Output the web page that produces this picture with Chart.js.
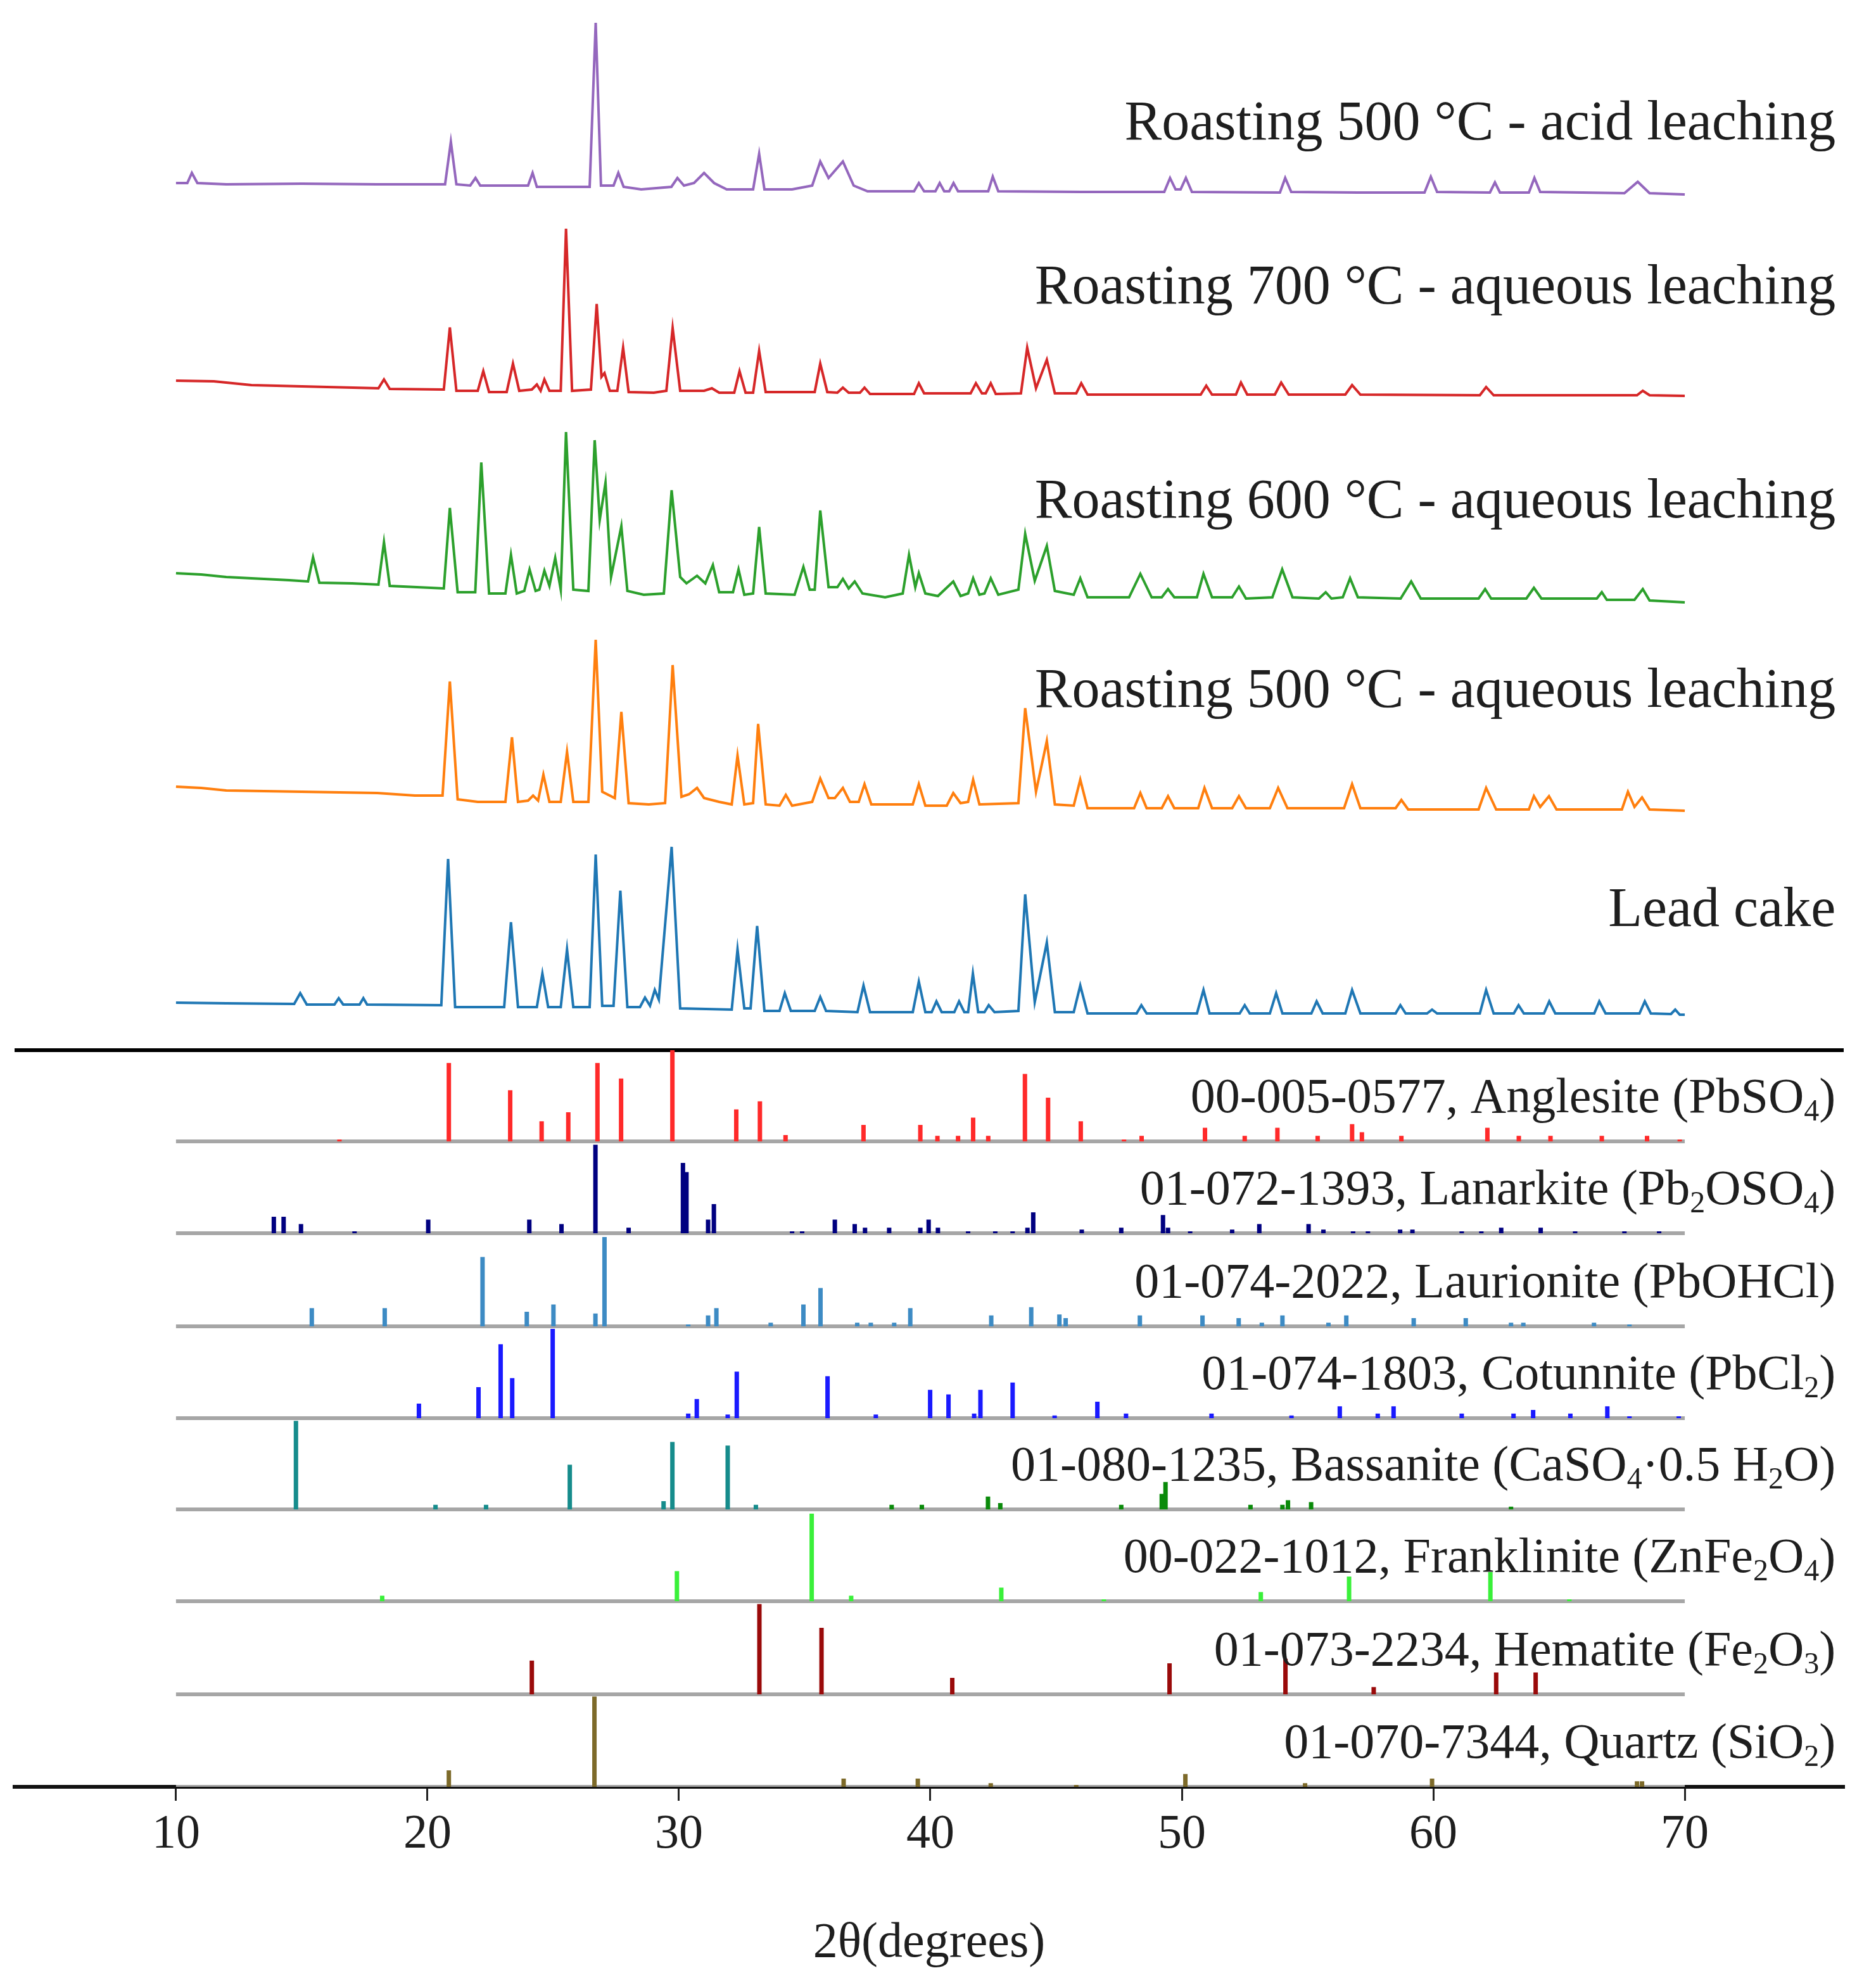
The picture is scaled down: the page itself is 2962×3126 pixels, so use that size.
<!DOCTYPE html>
<html>
<head>
<meta charset="utf-8">
<script src="https://cdn.jsdelivr.net/npm/chart.js@4.4.1/dist/chart.umd.min.js"></script>
<style>
  html, body { margin: 0; padding: 0; background: #fff; overflow: hidden; }
  #wrap { width: 2962px; height: 3126px; }
</style>
</head>
<body>
<div id="wrap"><canvas id="xrd"></canvas></div>
<script>
// ---- measured patterns: [2theta, intensity a.u.] ----
var roast500Acid = [[10,18],[10.45,18],[10.63,34],[10.85,18],[12,16],[15,17],[18,16],[20.7,16],[20.93,83],[21.15,16],[21.7,14],[21.91,26],[22.1,14],[24.0,14],[24.18,34],[24.35,12],[26.45,12],[26.69,271],[26.9,14],[27.4,14],[27.59,34],[27.8,12],[28.5,8],[29.7,12],[29.94,26],[30.2,14],[30.6,18],[31.0,34],[31.4,18],[31.9,8],[32.95,8],[33.19,64],[33.4,8],[34.5,8],[35.3,14],[35.62,52],[35.95,26],[36.52,52],[36.95,14],[37.5,5],[39.35,5],[39.54,18],[39.75,5],[40.2,5],[40.37,18],[40.55,5],[40.75,5],[40.92,18],[41.1,5],[42.3,5],[42.48,28],[42.7,5],[46,4],[49.3,4],[49.53,26],[49.75,8],[49.95,8],[50.16,26],[50.4,4],[53.9,3],[54.11,26],[54.35,4],[57,3],[59.65,3],[59.9,28],[60.15,4],[62.25,3],[62.45,19],[62.65,3],[63.8,3],[64.02,26],[64.25,4],[67.6,2],[68.13,20],[68.6,2],[70,0]];

var roast700Aq = [[10,24],[11.5,23],[13,17],[16,14],[18.05,12],[18.27,26],[18.5,11],[20.65,10],[20.89,108],[21.15,8],[22.0,8],[22.22,39],[22.45,6],[23.15,6],[23.4,51],[23.65,8],[24.15,10],[24.35,18],[24.5,8],[24.65,26],[24.85,8],[25.3,8],[25.51,264],[25.75,8],[26.5,10],[26.73,145],[26.92,30],[27.04,36],[27.25,8],[27.55,8],[27.78,76],[28.0,6],[29.0,5],[29.5,8],[29.75,107],[30.05,8],[31.0,8],[31.31,12],[31.6,5],[32.2,5],[32.41,39],[32.65,5],[32.95,5],[33.19,71],[33.45,6],[35.4,6],[35.62,51],[35.9,6],[36.3,5],[36.52,13],[36.75,5],[37.2,5],[37.38,13],[37.6,3],[39.35,3],[39.54,20],[39.75,4],[41.6,4],[41.81,20],[42.05,4],[42.2,4],[42.4,20],[42.6,3],[43.6,4],[43.85,76],[44.2,12],[44.63,57],[44.95,4],[45.8,4],[46.0,20],[46.25,2],[50.75,2],[50.97,16],[51.2,2],[52.15,2],[52.35,21],[52.6,2],[53.7,2],[53.95,21],[54.25,2],[56.5,2],[56.77,17],[57.1,2],[61.85,1],[62.1,14],[62.4,1],[68.1,1],[68.33,8],[68.6,1],[70,0]];

var roast600Aq = [[10,46],[11,44],[12,40],[13,38],[14.5,35],[15.25,33],[15.45,71],[15.7,31],[17,30],[18.05,28],[18.27,95],[18.5,26],[20.65,22],[20.89,149],[21.2,16],[21.9,16],[22.14,221],[22.45,14],[23.1,14],[23.32,75],[23.55,14],[23.85,18],[24.06,52],[24.3,18],[24.45,20],[24.65,50],[24.85,26],[25.08,70],[25.3,20],[25.51,269],[25.8,20],[26.4,18],[26.65,256],[26.85,130],[27.08,189],[27.3,40],[27.71,120],[27.95,18],[28.6,12],[29.4,14],[29.71,177],[30.05,40],[30.3,30],[30.72,42],[31.05,30],[31.35,59],[31.6,16],[32.15,16],[32.37,52],[32.6,12],[32.95,14],[33.19,119],[33.45,14],[34.6,12],[34.95,56],[35.2,20],[35.4,20],[35.62,145],[35.95,24],[36.3,24],[36.52,37],[36.75,22],[36.99,33],[37.3,14],[38.2,8],[38.9,14],[39.15,75],[39.4,24],[39.54,46],[39.8,14],[40.3,10],[40.91,33],[41.2,10],[41.5,14],[41.7,38],[41.95,12],[42.15,14],[42.4,38],[42.7,12],[43.5,20],[43.77,108],[44.15,34],[44.63,89],[44.95,18],[45.7,12],[45.96,38],[46.25,8],[47.9,8],[48.35,45],[48.8,8],[49.2,8],[49.45,21],[49.7,8],[50.6,8],[50.86,45],[51.2,8],[52.0,8],[52.27,25],[52.55,6],[53.6,8],[53.99,52],[54.4,8],[55.45,6],[55.72,16],[55.95,6],[56.4,8],[56.69,38],[57.0,8],[58.7,6],[59.12,33],[59.5,6],[61.8,6],[62.06,21],[62.3,6],[63.7,6],[64.0,23],[64.3,6],[66.5,6],[66.7,16],[66.9,4],[68.0,4],[68.33,21],[68.6,3],[70,0]];

var roast500Aq = [[10,38],[11,36],[12,32],[15,30],[18,28],[19.5,24],[20.6,24],[20.89,204],[21.2,18],[22.0,14],[23.1,14],[23.36,116],[23.6,14],[24.0,16],[24.2,24],[24.4,16],[24.61,57],[24.85,14],[25.3,14],[25.55,93],[25.8,14],[26.4,14],[26.69,270],[26.95,30],[27.45,20],[27.71,156],[28.0,12],[28.8,10],[29.45,12],[29.75,230],[30.1,22],[30.4,26],[30.72,36],[31.0,20],[31.6,14],[32.1,10],[32.33,87],[32.6,10],[32.95,12],[33.15,137],[33.45,10],[34.0,8],[34.25,25],[34.5,8],[35.3,14],[35.62,51],[35.95,20],[36.2,20],[36.52,36],[36.8,14],[37.15,14],[37.38,42],[37.65,10],[39.3,10],[39.54,42],[39.8,8],[40.65,8],[40.91,28],[41.2,12],[41.5,14],[41.7,49],[41.95,10],[43.5,12],[43.77,162],[44.2,30],[44.63,110],[44.95,10],[45.7,8],[45.96,49],[46.25,4],[48.1,4],[48.35,28],[48.6,4],[49.2,4],[49.45,23],[49.7,4],[50.65,4],[50.9,36],[51.2,4],[52.0,4],[52.27,23],[52.55,4],[53.5,4],[53.83,36],[54.2,4],[56.45,4],[56.77,42],[57.1,4],[58.5,4],[58.73,17],[59.0,2],[61.8,2],[62.1,36],[62.5,2],[63.8,2],[64.0,23],[64.25,6],[64.6,23],[64.9,2],[67.5,2],[67.74,30],[68.0,6],[68.3,21],[68.6,2],[70,0]];

var leadCake = [[10,19],[12,18],[14.7,17],[14.94,34],[15.2,16],[16.3,16],[16.47,26],[16.65,16],[17.3,16],[17.45,26],[17.6,16],[20.55,15],[20.82,246],[21.1,12],[23.05,12],[23.32,146],[23.6,12],[24.35,12],[24.57,65],[24.8,12],[25.3,12],[25.55,103],[25.8,12],[26.45,12],[26.69,253],[26.95,14],[27.4,14],[27.67,196],[27.95,12],[28.45,12],[28.65,27],[28.85,14],[29.04,39],[29.2,24],[29.71,265],[30.05,10],[32.1,8],[32.33,103],[32.6,10],[32.85,10],[33.11,140],[33.4,6],[34.0,6],[34.21,34],[34.45,6],[35.4,6],[35.62,28],[35.85,6],[37.1,4],[37.34,46],[37.6,4],[39.3,4],[39.54,52],[39.8,4],[40.05,4],[40.24,21],[40.45,4],[40.95,4],[41.14,21],[41.35,4],[41.5,4],[41.69,65],[41.9,4],[42.15,4],[42.32,15],[42.55,4],[43.5,6],[43.77,190],[44.15,20],[44.63,114],[44.95,4],[45.7,4],[45.96,46],[46.25,2],[48.2,2],[48.39,15],[48.6,2],[50.6,2],[50.86,39],[51.1,2],[52.3,2],[52.5,15],[52.7,2],[53.5,2],[53.75,34],[54.0,2],[55.15,2],[55.36,21],[55.6,2],[56.5,2],[56.77,39],[57.1,2],[58.5,2],[58.69,15],[58.9,2],[59.75,2],[59.95,8],[60.15,2],[61.85,2],[62.1,39],[62.4,2],[63.2,2],[63.39,15],[63.6,2],[64.4,2],[64.61,21],[64.85,2],[66.4,2],[66.6,21],[66.85,2],[68.2,2],[68.41,21],[68.65,2],[69.45,1],[69.62,8],[69.8,0],[70,0]];

var patternNames = ['Roasting 500 °C - acid leaching', 'Roasting 700 °C - aqueous leaching',
  'Roasting 600 °C - aqueous leaching', 'Roasting 500 °C - aqueous leaching', 'Lead cake'];

// ---- reference cards: [2theta, relative intensity %] ----
var anglesite = [[16.5,2],[20.85,86],[23.29,56],[24.54,22],[25.6,32],[26.76,86],[27.7,69],[29.74,100],[32.28,35],[33.22,44],[34.24,7],[37.34,18],[39.6,18],[40.28,6],[41.1,6],[41.7,26],[42.3,6],[43.76,74],[44.68,48],[45.98,22],[47.7,2],[48.4,6],[50.92,15],[52.5,6],[53.8,15],[55.4,6],[56.77,19],[57.16,10],[58.73,6],[62.15,15],[63.4,6],[64.66,6],[66.7,6],[68.5,6],[69.8,2]];
var lanarkite = [[13.89,18],[14.28,18],[14.97,10],[17.1,2],[20.03,15],[24.05,15],[25.33,10],[26.68,97],[28.0,6],[30.16,77],[30.3,67],[31.16,15],[31.39,32],[34.5,2],[34.9,2],[36.2,15],[36.99,10],[37.4,6],[38.36,6],[39.6,6],[39.93,15],[40.3,6],[41.5,2],[42.58,2],[43.27,2],[43.86,6],[44.09,23],[46.02,4],[47.59,6],[49.25,20],[49.45,6],[50.33,2],[52.0,4],[53.08,10],[55.04,10],[55.63,4],[56.81,2],[57.4,2],[58.68,4],[59.17,4],[61.13,2],[61.91,2],[62.7,6],[64.27,6],[65.64,2],[67.6,2],[68.98,2]];
var laurionite = [[15.4,20],[18.3,20],[22.19,76],[23.95,16],[25.01,24],[26.68,14],[27.04,98],[30.37,2],[31.16,12],[31.49,20],[33.65,4],[34.95,24],[35.63,42],[37.09,4],[37.63,4],[38.56,4],[39.2,20],[42.42,12],[44.01,21],[45.13,13],[45.38,9],[48.33,12],[50.82,12],[52.26,9],[53.18,4],[54.0,12],[55.83,4],[56.54,12],[59.22,9],[61.29,9],[63.09,4],[63.58,4],[66.39,4],[67.8,2]];
var cotunnite = [[19.66,16],[22.03,34],[22.91,81],[23.37,44],[24.98,98],[30.37,5],[30.71,21],[31.94,4],[32.3,51],[35.91,46],[37.83,4],[39.99,31],[40.72,26],[41.74,5],[41.99,31],[43.27,39],[44.94,3],[46.64,18],[47.78,5],[51.18,5],[54.36,3],[56.28,13],[57.79,5],[58.42,13],[61.13,5],[63.19,5],[63.97,9],[65.45,5],[66.92,13],[67.8,2],[69.76,2]];
var bassanite = [[14.77,97],[20.32,5],[22.33,5],[25.66,49],[29.39,9],[29.74,74],[31.94,70],[33.06,5]];
var bassaniteMinor = [[38.46,5],[39.66,5],[42.29,14],[42.78,7],[47.59,5],[49.2,17],[49.35,30],[52.73,5],[54.0,5],[54.22,10],[55.14,8],[63.09,3]];
var franklinite = [[18.2,6],[29.92,33],[35.28,96],[36.85,6],[42.82,15],[46.9,2],[53.14,10],[56.65,27],[62.27,32],[65.41,2]];
var hematite = [[24.15,37],[33.2,99],[35.67,73],[40.87,18],[49.51,34],[54.12,39],[57.63,8],[62.5,24],[64.07,24]];
var quartz = [[20.85,18],[26.64,99],[36.55,9],[39.5,9],[42.4,4],[45.8,2],[50.14,14],[54.9,4],[59.95,9],[68.1,6],[68.3,6]];

var cardNames = ['00-005-0577, Anglesite (PbSO_4)', '01-072-1393, Lanarkite (Pb_2OSO_4)',
  '01-074-2022, Laurionite (PbOHCl)', '01-074-1803, Cotunnite (PbCl_2)',
  '01-080-1235, Bassanite (CaSO_4·0.5 H_2O)', '00-022-1012, Franklinite (ZnFe_2O_4)',
  '01-073-2234, Hematite (Fe_2O_3)', '01-070-7344, Quartz (SiO_2)'];

var xTicks = [10, 20, 30, 40, 50, 60, 70];

// ---- layout / style ----
var X_MIN = 3.58, X_MAX = 76.32, Y_MAX = 2821;
var patternOffsets = [2514, 2196, 1870, 1541, 1219];
var patternLabelY = [2601, 2342, 2004, 1705, 1359];
var patternColors = ['#9467bd', '#d62728', '#2ca02c', '#ff7f0e', '#1f77b4'];
var cardBases = [1019, 874, 727, 582, 438, 293, 146, 0];
var cardColors = ['#ff2a2a', '#000080', '#3d8bc4', '#1a1aff', '#168c8c', '#3af03a', '#9a0a0a', '#7d6a2a'];
var STICK_SCALE = 1.44;
var DIVIDER_Y = 1163;
var LABEL_X = 76.0;

var datasets = [];

var patterns = [roast500Acid, roast700Aq, roast600Aq, roast500Aq, leadCake];
patterns.forEach(function (p, i) {
  datasets.push({
    data: p.map(function (d) { return { x: d[0], y: patternOffsets[i] + d[1] }; }),
    borderColor: patternColors[i],
    borderWidth: 4,
    pointRadius: 0
  });
});

function stickData(card, base) {
  var pts = [];
  card.forEach(function (d) {
    pts.push({ x: d[0], y: base });
    pts.push({ x: d[0], y: base + d[1] * STICK_SCALE });
    pts.push({ x: d[0], y: null });
  });
  return pts;
}

var cards = [anglesite, lanarkite, laurionite, cotunnite, bassanite, franklinite, hematite, quartz];
cards.forEach(function (c, i) {
  datasets.push({
    data: stickData(c, cardBases[i]),
    borderColor: cardColors[i],
    borderWidth: 7,
    borderCapStyle: 'butt',
    pointRadius: 0
  });
});
datasets.push({
  data: stickData(bassaniteMinor, cardBases[4]),
  borderColor: '#0a8a0a',
  borderWidth: 7,
  borderCapStyle: 'butt',
  pointRadius: 0
});

// grey baselines under each card
cardBases.forEach(function (b) {
  datasets.push({
    data: [{ x: 10, y: b }, { x: 70, y: b }],
    borderColor: '#a6a6a6',
    borderWidth: 6,
    pointRadius: 0
  });
});

// black separator between samples and cards
datasets.push({
  data: [{ x: X_MIN, y: DIVIDER_Y }, { x: X_MAX, y: DIVIDER_Y }],
  borderColor: '#000000',
  borderWidth: 6,
  pointRadius: 0
});

function drawRich(ctx, text, xRight, yBase, size) {
  var parts = text.split(/(_\d)/).filter(function (p) { return p !== ''; });
  var main = size + 'px "Liberation Serif", serif';
  var small = Math.round(size * 0.62) + 'px "Liberation Serif", serif';
  var widths = parts.map(function (p) {
    var sub = p[0] === '_';
    ctx.font = sub ? small : main;
    return ctx.measureText(sub ? p.slice(1) : p).width;
  });
  var total = widths.reduce(function (a, b) { return a + b; }, 0);
  var x = xRight - total;
  ctx.textAlign = 'left';
  ctx.textBaseline = 'alphabetic';
  parts.forEach(function (p, i) {
    if (p[0] === '_') {
      ctx.font = small;
      ctx.fillText(p.slice(1), x, yBase + size * 0.17);
    } else {
      ctx.font = main;
      ctx.fillText(p, x, yBase);
    }
    x += widths[i];
  });
}

var labelPlugin = {
  id: 'labels',
  afterDraw: function (chart) {
    var ctx = chart.ctx;
    var xs = chart.scales.x, ys = chart.scales.y;
    var xr = xs.getPixelForValue(LABEL_X);
    ctx.save();
    ctx.fillStyle = '#1e1e1e';
    patternNames.forEach(function (t, i) {
      drawRich(ctx, t, xr, ys.getPixelForValue(patternLabelY[i]), 88);
    });
    cardNames.forEach(function (t, i) {
      drawRich(ctx, t, xr, ys.getPixelForValue(cardBases[i] + 46), 78);
    });
    ctx.restore();
  }
};

var ctx = document.getElementById('xrd').getContext('2d');
var chart = new Chart(ctx, {
  type: 'line',
  data: { datasets: datasets },
  options: {
    responsive: true,
    maintainAspectRatio: false,
    animation: false,
    events: [],
    layout: { padding: { left: 23, right: 51, top: 0, bottom: 0 } },
    elements: { line: { tension: 0 } },
    plugins: {
      legend: { display: false },
      tooltip: { enabled: false }
    },
    scales: {
      x: {
        type: 'linear',
        min: X_MIN,
        max: X_MAX,
        afterBuildTicks: function (scale) {
          scale.ticks = xTicks.map(function (v) { return { value: v }; });
        },
        afterFit: function (scale) { scale.height = 305; },
        ticks: {
          padding: 8,
          color: '#1e1e1e',
          font: { family: '"Liberation Serif", serif', size: 76 },
          maxRotation: 0
        },
        grid: {
          drawOnChartArea: false,
          drawTicks: true,
          tickLength: 22,
          color: '#222222',
          lineWidth: 3
        },
        border: { display: true, color: '#111111', width: 6 },
        title: {
          display: true,
          text: '2θ(degrees)',
          color: '#1e1e1e',
          font: { family: '"Liberation Serif", serif', size: 78 },
          padding: { top: 0, bottom: 11 }
        }
      },
      y: {
        display: false,
        min: 0,
        max: Y_MAX
      }
    }
  },
  plugins: [labelPlugin]
});
</script>
</body>
</html>
